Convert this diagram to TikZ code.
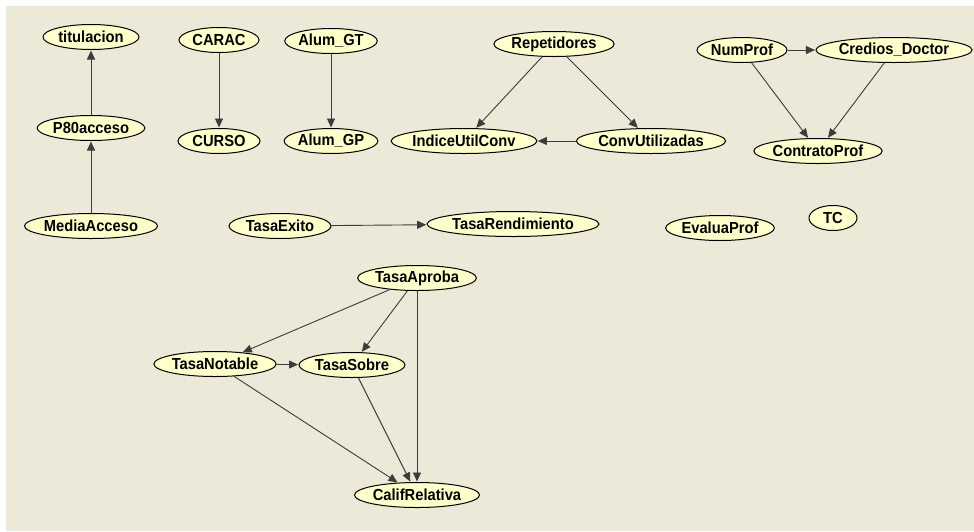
\documentclass[tikz,border=0pt]{standalone}
\usepackage{fontspec}
\setmainfont{Liberation Sans}[FakeStretch=0.92]
\usetikzlibrary{shapes.geometric,arrows.meta}
\definecolor{canvas}{RGB}{236,233,216}
\definecolor{nodefill}{RGB}{255,255,204}
\definecolor{linkcol}{RGB}{60,60,60}
\begin{document}
\begin{tikzpicture}[x=1pt,y=-1pt,
  bnode/.style={ellipse, draw=black, line width=1pt, fill=nodefill,
    inner sep=0pt, minimum height=25pt, font=\fontsize{16}{18}\selectfont\bfseries},
  link/.style={draw=linkcol, line width=0.9pt,
    -{Triangle[length=9pt,width=8pt]}, shorten >=0.5pt}]
  % canvas
  \fill[white] (0,0) rectangle (974,531);
  \fill[canvas] (6,6) rectangle (974,531);
  \useasboundingbox (0,0) rectangle (974,531);

  % nodes
  \node[bnode, minimum width=96pt]  (tit)  at (91,37)   {titulacion};
  \node[bnode, minimum width=94pt]  (p80)  at (91,128)  {P80acceso};
  \node[bnode, minimum width=118pt] (med)  at (91,226)  {MediaAcceso};
  \node[bnode, minimum width=80pt]  (car)  at (219,40)  {CARAC};
  \node[bnode, minimum width=82pt]  (cur)  at (219,141) {CURSO};
  \node[bnode, minimum width=92pt]  (agt)  at (331,41)  {Alum\_GT};
  \node[bnode, minimum width=92pt]  (agp)  at (331,141) {Alum\_GP};
  \node[bnode, minimum width=116pt] (rep)  at (554,44)  {Repetidores};
  \node[bnode, minimum width=134pt] (iuc)  at (464,141) {IndiceUtilConv};
  \node[bnode, minimum width=136pt] (cut)  at (651,141) {ConvUtilizadas};
  \node[bnode, minimum width=90pt]  (nump) at (742,50)  {NumProf};
  \node[bnode, minimum width=140pt] (cred) at (894,50)  {Credios\_Doctor};
  \node[bnode, minimum width=120pt] (cont) at (818,151) {ContratoProf};
  \node[bnode, minimum width=102pt] (tex)  at (280,226) {TasaExito};
  \node[bnode, minimum width=154pt] (tren) at (513,224) {TasaRendimiento};
  \node[bnode, minimum width=100pt] (eval) at (720,228) {EvaluaProf};
  \node[bnode, minimum width=48pt]  (tc)   at (833,218) {TC};
  \node[bnode, minimum width=112pt] (tapr) at (417,278) {TasaAproba};
  \node[bnode, minimum width=116pt] (tnot) at (215,364) {TasaNotable};
  \node[bnode, minimum width=106pt] (tsob) at (352,365) {TasaSobre};
  \node[bnode, minimum width=120pt] (cal)  at (417,495) {CalifRelativa};

  % dependencies
  \draw[link] (p80) -- (tit);
  \draw[link] (med) -- (p80);
  \draw[link] (car) -- (cur);
  \draw[link] (agt) -- (agp);
  \draw[link] (rep) -- (iuc);
  \draw[link] (rep) -- (cut);
  \draw[link] (cut) -- (iuc);
  \draw[link] (nump) -- (cred);
  \draw[link] (nump) -- (cont);
  \draw[link] (cred) -- (cont);
  \draw[link] (tex) -- (tren);
  \draw[link] (tapr) -- (tnot);
  \draw[link] (tapr) -- (tsob);
  \draw[link] (tapr) -- (cal);
  \draw[link] (tnot) -- (tsob);
  \draw[link] (tnot) -- (cal);
  \draw[link] (tsob) -- (cal);
\end{tikzpicture}
\end{document}
